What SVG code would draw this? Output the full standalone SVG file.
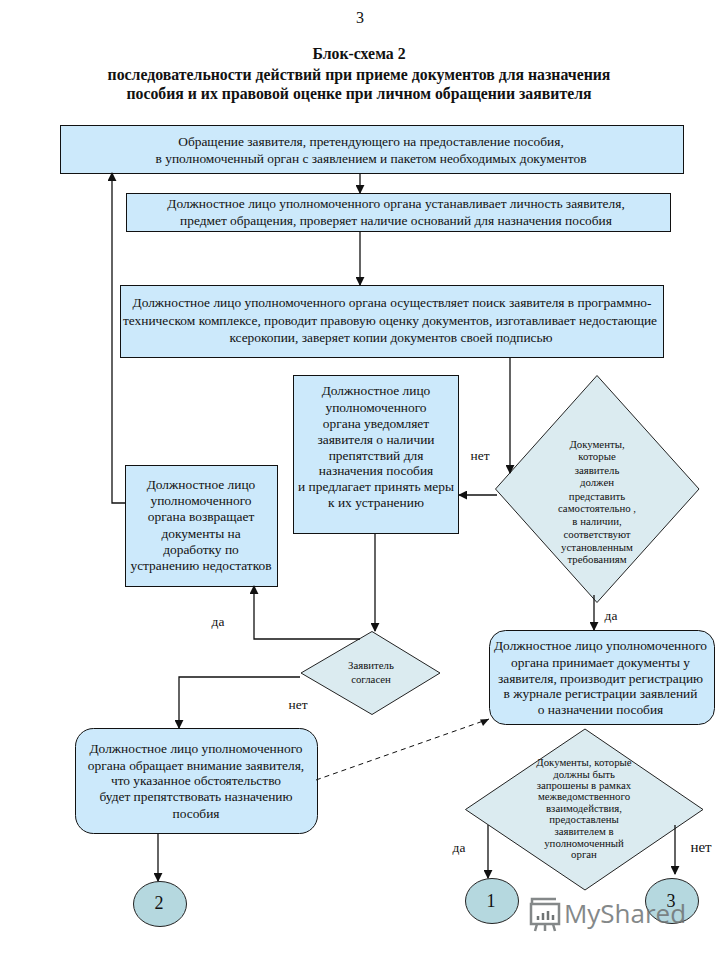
<svg xmlns="http://www.w3.org/2000/svg" width="720" height="960" viewBox="0 0 720 960">
<style>
text{font-family:"Liberation Serif","Times New Roman",serif;fill:#111;text-anchor:middle}
.t{font-size:13.4px}.s{font-size:10.8px}.xs{font-size:10.8px}.h{font-size:15.8px;font-weight:bold}
.b{fill:#cce9fb;stroke:#111;stroke-width:1}
.d{fill:#dbebf0;stroke:#222;stroke-width:1}
.c{fill:#b5d8df;stroke:#222;stroke-width:1}
.l{fill:none;stroke:#111;stroke-width:1.3;marker-end:url(#a)}
</style>
<defs><marker id="a" viewBox="0 0 10 10" refX="9" refY="5" markerWidth="9" markerHeight="9" markerUnits="userSpaceOnUse" orient="auto"><path d="M0 0L10 5L0 10Z" fill="#111"/></marker></defs>
<rect width="720" height="960" fill="#fff"/>
<g id="n1"><rect class="b" x="60.500" y="125.500" width="623" height="48"/>
<text class="t" x="371" y="146">Обращение заявителя, претендующего на предоставление пособия,</text>
<text class="t" x="371" y="163">в уполномоченный орган с заявлением и пакетом необходимых документов</text></g>
<g id="n2"><rect class="b" x="126.500" y="193.500" width="544" height="38"/>
<text class="t" x="396" y="208">Должностное лицо уполномоченного органа устанавливает личность заявителя,</text>
<text class="t" x="396" y="225">предмет обращения, проверяет наличие оснований для назначения пособия</text></g>
<g id="n3"><rect class="b" x="120.500" y="285.500" width="543" height="72"/>
<text class="t" x="392" y="307">Должностное лицо уполномоченного органа осуществляет поиск заявителя в программно-</text>
<text class="t" x="390" y="325">техническом комплексе, проводит правовую оценку документов, изготавливает недостающие</text>
<text class="t" x="391" y="342">ксерокопии, заверяет копии документов своей подписью</text></g>
<g id="n4"><rect class="b" x="293.500" y="375.500" width="165" height="158"/>
<text class="t" x="376" y="395">Должностное лицо</text>
<text class="t" x="376" y="412">уполномоченного</text>
<text class="t" x="376" y="428">органа уведомляет</text>
<text class="t" x="376" y="444">заявителя о наличии</text>
<text class="t" x="376" y="460">препятствий для</text>
<text class="t" x="376" y="475">назначения пособия</text>
<text class="t" x="376" y="491">и предлагает принять меры</text>
<text class="t" x="376" y="507">к их устранению</text></g>
<g id="n5"><rect class="b" x="125.500" y="465.500" width="152" height="121"/>
<text class="t" x="201" y="489">Должностное лицо</text>
<text class="t" x="201" y="505">уполномоченного</text>
<text class="t" x="201" y="521">органа возвращает</text>
<text class="t" x="201" y="538">документы на</text>
<text class="t" x="201" y="554">доработку по</text>
<text class="t" x="201" y="570">устранению недостатков</text></g>
<g id="n6"><path class="d" d="M597 375.500L699 489L597 602.500L495.500 489Z"/>
<g class="s"><text x="597" y="448">Документы,</text><text x="597" y="460">которые</text><text x="597" y="474">заявитель</text><text x="597" y="486">должен</text><text x="597" y="500">представить</text><text x="597" y="512">самостоятельно ,</text><text x="597" y="525">в наличии,</text><text x="597" y="538">соответствуют</text><text x="597" y="551">установленным</text><text x="597" y="563">требованиям</text></g></g>
<g id="n7"><path class="d" d="M372 631.500L440 673L372 714.500L301 673Z"/>
<text class="s" x="371" y="669">Заявитель</text><text class="s" x="371" y="683">согласен</text></g>
<g id="n8"><rect class="b" x="489.500" y="630.500" width="225" height="94" rx="16"/>
<text class="t" x="600.500" y="650">Должностное лицо уполномоченного</text>
<text class="t" x="600.500" y="667">органа принимает документы у</text>
<text class="t" x="600.500" y="683">заявителя, производит регистрацию</text>
<text class="t" x="600.500" y="698">в журнале регистрации заявлений</text>
<text class="t" x="600.500" y="714">о назначении пособия</text></g>
<g id="n9"><rect class="b" x="75.500" y="728.500" width="242" height="105" rx="18"/>
<text class="t" x="196" y="753">Должностное лицо уполномоченного</text>
<text class="t" x="196" y="770">органа обращает  внимание заявителя,</text>
<text class="t" x="196" y="785">что указанное обстоятельство</text>
<text class="t" x="196" y="801">будет препятствовать назначению</text>
<text class="t" x="196" y="818">пособия</text></g>
<g id="n10"><path class="d" d="M585 729L703 809.500L585 890L465.500 809.500Z"/>
<g class="xs"><text x="584" y="766">Документы, которые</text><text x="584" y="777.500">должны быть</text><text x="584" y="789">запрошены в рамках</text><text x="584" y="800">межведомственного</text><text x="584" y="811.500">взаимодействия,</text><text x="584" y="823">предоставлены</text><text x="584" y="835">заявителем в</text><text x="584" y="846.500">уполномоченный</text><text x="584" y="858">орган</text></g></g>
<g id="c2"><ellipse class="c" cx="160" cy="904" rx="26.500" ry="22.500"/><text x="159" y="909" font-size="18">2</text></g>
<g id="c1"><ellipse class="c" cx="492" cy="901" rx="26.500" ry="22.500"/><text x="491" y="907" font-size="18">1</text></g>
<g id="c3"><ellipse class="c" cx="672" cy="901" rx="26.500" ry="22.500"/><text x="671" y="907" font-size="18">3</text></g>
<g id="connectors">
<path class="l" d="M360 174V193"/>
<path class="l" d="M360 232V285"/>
<path class="l" d="M510 358V473"/>
<path class="l" d="M497 495H459"/>
<path class="l" d="M375 534V631"/>
<path class="l" d="M125 503H112V173"/>
<path class="l" d="M360 639H254V586"/>
<path class="l" d="M300 677H179V728"/>
<path class="l" d="M594 595V630"/>
<path class="l" d="M158 833V881"/>
<path class="l" d="M488 825V878"/>
<path class="l" d="M675 825V874"/>
<path d="M316 780L489 719" fill="none" stroke="#111" stroke-width="1" stroke-dasharray="5 4"/>
<path d="M489 719L480 719.500L483 726Z" fill="#111"/>
</g>
<g id="title">
<text x="360" y="23" font-size="16">3</text>
<text class="h" x="359" y="59">Блок-схема  2</text>
<text class="h" x="359" y="80">последовательности действий при приеме документов для назначения</text>
<text class="h" x="359" y="99">пособия и их правовой оценке при личном обращении заявителя</text>
</g>
<g id="labels">
<text class="t" x="480" y="460">нет</text>
<text class="t" x="611" y="620">да</text>
<text class="t" x="218" y="626">да</text>
<text class="t" x="298" y="709">нет</text>
<text class="t" x="459" y="852">да</text>
<text x="701" y="852" font-size="15">нет</text>
</g>
<g id="watermark">
<text x="625" y="923" font-size="26" style="font-family:'Open Sans','Liberation Sans',sans-serif;fill:#6f7475" opacity="0.85">MyShared</text>
<g fill="none" stroke="#6f7475" stroke-width="2.500" opacity="0.85"><rect x="531" y="904" width="28" height="20"/><path d="M532 904V899H556M537 924L535 931M553 924L555 931M545 924V931"/></g>
<path d="M538 920v-4M543 920v-7M548 920v-9M553 920v-5" stroke="#6f7475" stroke-width="2.500" fill="none"/>
</g>
</svg>
